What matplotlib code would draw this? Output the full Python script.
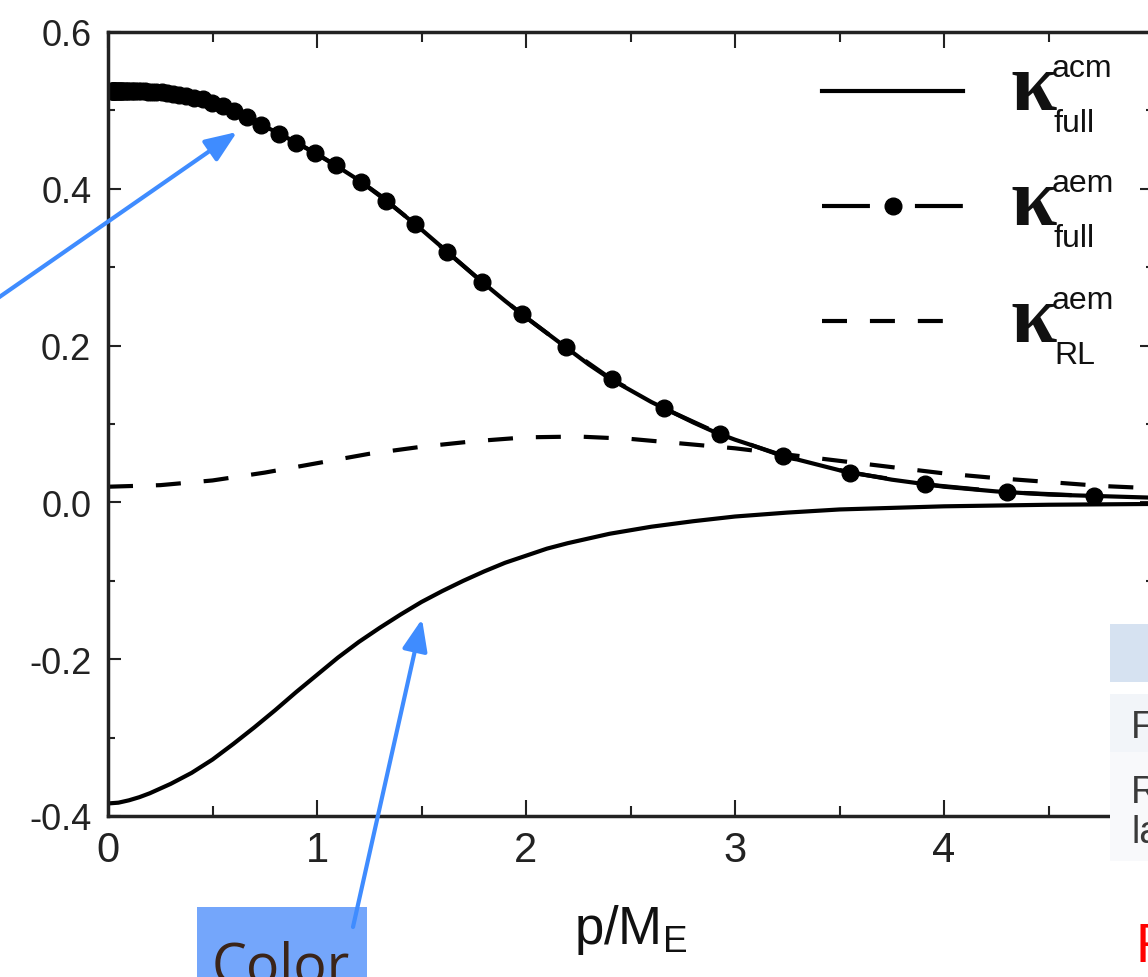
import numpy as np
import matplotlib
matplotlib.use('Agg')
import matplotlib.pyplot as plt
from matplotlib.patches import Rectangle
from matplotlib.text import Annotation

# kappa_full (acm), solid
p_acm = [0.0, 0.1, 0.2, 0.3, 0.4, 0.5, 0.6, 0.7, 0.8, 0.9, 1.0, 1.1, 1.2, 1.3, 1.4,
         1.5, 1.6, 1.7, 1.8, 1.9, 2.0, 2.1, 2.2, 2.3, 2.4, 2.5, 2.6, 2.7, 2.8, 2.9,
         3.0, 3.25, 3.5, 3.75, 4.0, 4.25, 4.5, 4.75, 5.0]
k_acm_full = [0.525, 0.525, 0.524, 0.521, 0.517, 0.510, 0.499, 0.486, 0.473, 0.459,
              0.444, 0.428, 0.411, 0.392, 0.370, 0.348, 0.325, 0.302, 0.279, 0.257,
              0.236, 0.216, 0.196, 0.176, 0.158, 0.143, 0.128, 0.115, 0.102, 0.090,
              0.080, 0.058, 0.041, 0.029, 0.020, 0.014, 0.010, 0.008, 0.006]

# kappa_full (aem), dash + dots
p_aem = [0.019, 0.021, 0.024, 0.026, 0.029, 0.031, 0.034, 0.038, 0.042, 0.046,
         0.051, 0.056, 0.061, 0.067, 0.074, 0.081, 0.089, 0.098, 0.108, 0.119,
         0.131, 0.144, 0.159, 0.175, 0.192, 0.211, 0.232, 0.256, 0.281, 0.309,
         0.340, 0.374, 0.412, 0.453, 0.498, 0.548, 0.603, 0.664, 0.73, 0.82,
         0.90, 0.99, 1.09, 1.21, 1.33, 1.47, 1.62, 1.79, 1.98, 2.19, 2.41, 2.66,
         2.93, 3.23, 3.55, 3.91, 4.30, 4.72]
k_aem_full = [0.525, 0.525, 0.525, 0.525, 0.525, 0.525, 0.525, 0.525, 0.525, 0.525,
              0.525, 0.525, 0.525, 0.525, 0.525, 0.525, 0.525, 0.525, 0.525, 0.525,
              0.525, 0.525, 0.525, 0.525, 0.524, 0.524, 0.523, 0.523, 0.522, 0.521,
              0.520, 0.518, 0.516, 0.514, 0.510, 0.505, 0.499, 0.491, 0.482, 0.470,
              0.459, 0.446, 0.430, 0.409, 0.385, 0.355, 0.320, 0.281, 0.240, 0.198,
              0.157, 0.120, 0.087, 0.059, 0.038, 0.023, 0.013, 0.008]

# kappa_RL (aem), dashed
p_rl = [0.0, 0.25, 0.5, 0.75, 1.0, 1.25, 1.5, 1.75, 2.0, 2.25, 2.5, 2.75, 3.0,
        3.25, 3.5, 3.75, 4.0, 4.25, 4.5, 4.75, 5.0]
k_rl = [0.020, 0.022, 0.028, 0.038, 0.050, 0.062, 0.071, 0.078, 0.083, 0.084,
        0.081, 0.075, 0.069, 0.061, 0.053, 0.045, 0.037, 0.031, 0.026, 0.021, 0.018]

# lower solid curve
p_low = [0.0, 0.05, 0.1, 0.15, 0.2, 0.3, 0.4, 0.5, 0.6, 0.7, 0.8, 0.9, 1.0, 1.1,
         1.2, 1.3, 1.4, 1.5, 1.6, 1.7, 1.8, 1.9, 2.0, 2.1, 2.2, 2.3, 2.4, 2.6, 2.8,
         3.0, 3.25, 3.5, 4.0, 4.5, 5.0]
k_low = [-0.384, -0.383, -0.380, -0.376, -0.371, -0.359, -0.345, -0.328, -0.308,
         -0.287, -0.265, -0.242, -0.220, -0.198, -0.178, -0.160, -0.143, -0.127,
         -0.113, -0.100, -0.088, -0.077, -0.068, -0.059, -0.052, -0.046, -0.040,
         -0.031, -0.024, -0.018, -0.013, -0.009, -0.005, -0.003, -0.002]

xticks = [0, 1, 2, 3, 4]
xminor = [0.5, 1.5, 2.5, 3.5, 4.5]
yticks = [-0.4, -0.2, 0.0, 0.2, 0.4, 0.6]
ylabels = ['-0.4', '-0.2', '0.0', '0.2', '0.4', '0.6']
yminor = [-0.3, -0.1, 0.1, 0.3, 0.5]

leg_sup = ['acm', 'aem', 'aem']
leg_sub = ['full', 'full', 'RL']

W, H = 1148, 978


def fx(px):
    return px / W


def fy(py):
    return 1 - py / H


plt.rcParams['font.family'] = ['Liberation Sans', 'DejaVu Sans']
plt.rcParams['axes.unicode_minus'] = False
plt.rcParams['lines.solid_joinstyle'] = 'round'

fig = plt.figure(figsize=(W / 100, H / 100), dpi=100)
ax = fig.add_axes([fx(108), fy(817), (1153 - 108) / W, (817 - 33) / H])

lw = 3
l_acm, = ax.plot(p_acm, k_acm_full, color='k', lw=lw)
l_aem, = ax.plot(p_aem, k_aem_full, color='k', lw=lw, marker='o', ms=12,
                 dashes=(11.5, 10.8))
l_rl, = ax.plot(p_rl, k_rl, color='k', lw=lw, dashes=(6, 5.5))
ax.plot(p_low, k_low, color='k', lw=lw)

ax.set_xlim(0, 5)
ax.set_ylim(-0.4, 0.6)
ax.set_xticks(xticks)
ax.set_xticks(xminor, minor=True)
ax.set_yticks(yticks)
ax.set_yticklabels(ylabels)
ax.set_yticks(yminor, minor=True)
for s in ax.spines.values():
    s.set_linewidth(2.5)
    s.set_color('#222222')
ax.tick_params(which='both', direction='in', top=True, right=True,
               color='#222222', width=1.5, labelcolor='#222222')
ax.tick_params(axis='x', which='major', length=11.5, labelsize=30, pad=10)
ax.tick_params(axis='x', which='minor', length=7)
ax.tick_params(axis='y', which='major', length=9.5, labelsize=26, pad=12)
ax.tick_params(axis='y', which='minor', length=5)

ax.set_xlabel(r'p/M$_{\mathregular{E}}$', fontsize=38, labelpad=23, color='#111111')

leg = ax.legend([l_acm, l_aem, l_rl], [' '] * 3, loc='upper left',
                bbox_to_anchor=(fx(822), fy(79)), bbox_transform=fig.transFigure,
                frameon=False, fontsize=20, handlelength=5.08, handleheight=1.5,
                labelspacing=2.92, borderpad=0, borderaxespad=0, handletextpad=0,
                numpoints=1)

kappa_base = [110, 225, 342]
for i in range(3):
    b = kappa_base[i]
    fig.text(fx(1010), fy(b), '\u03ba', fontfamily='Liberation Serif',
             fontweight='bold', fontsize=60, va='baseline', color='#111111')
    fig.text(fx(1052), fy(b - 33), leg_sup[i], fontsize=23, va='baseline',
             color='#111111')
    fig.text(fx(1054), fy(b + 22), leg_sub[i], fontsize=23, va='baseline',
             color='#111111')

# table fragment on the right
fig.add_artist(Rectangle((fx(1110), fy(683)), fx(40), 58 / H, transform=fig.transFigure,
                         facecolor='#d6e2f1', edgecolor='none', zorder=2))
fig.add_artist(Rectangle((fx(1110), fy(753)), fx(40), 58 / H, transform=fig.transFigure,
                         facecolor='#f2f5f9', edgecolor='none', zorder=2))
fig.add_artist(Rectangle((fx(1110), fy(862)), fx(40), 109 / H, transform=fig.transFigure,
                         facecolor='#f8f9fb', edgecolor='none', zorder=2))
fig.text(fx(1131), fy(738), 'F', fontsize=27, va='baseline', color='#3a3a3a')
fig.text(fx(1131), fy(803), 'R', fontsize=27, va='baseline', color='#3a3a3a')
fig.text(fx(1131), fy(843), 'la', fontsize=27, va='baseline', color='#3a3a3a')
fig.text(fx(1136), fy(962), 'R', fontsize=40, va='baseline', color='#ff0000')

# "Color" tag
fig.add_artist(Rectangle((fx(197), 0), fx(170), 70 / H, transform=fig.transFigure,
                         facecolor='#74a6fb', edgecolor='none', zorder=2))
fig.text(fx(212), fy(984), 'Color', fontfamily='Open Sans', fontsize=40,
         va='baseline', color='#3b2418', zorder=3)

arrow_kw = dict(arrowstyle='-|>,head_length=0.55,head_width=0.22', color='#3f8cff',
                lw=3, mutation_scale=35, shrinkA=0, shrinkB=0)
for tip, tail in [((237, 133), (-2, 299)), ((422, 620), (353, 928))]:
    a = Annotation('', xy=(tip[0], H - tip[1]), xytext=(tail[0], H - tail[1]),
                   xycoords='figure pixels', textcoords='figure pixels',
                   arrowprops=arrow_kw)
    a.set_zorder(5)
    fig.add_artist(a)

fig.savefig('out.png', dpi=100)
